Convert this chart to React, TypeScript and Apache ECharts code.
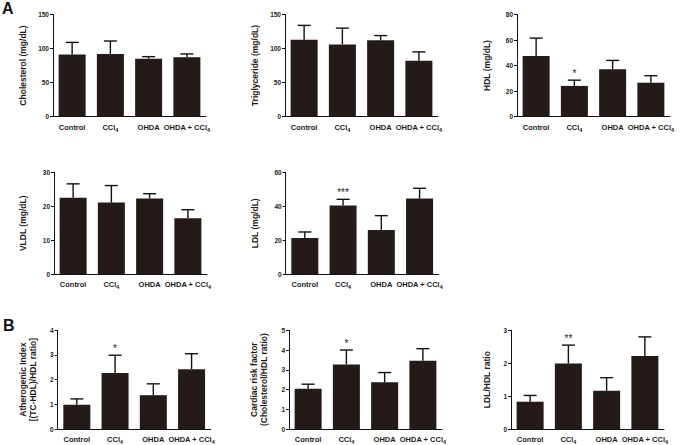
import React, { useEffect, useRef } from "react";
import * as echarts from "echarts";

const categories = ["Control", "CCl4", "OHDA", "OHDA + CCl4"];

const cholMean = [91, 92, 85, 87];
const cholErr = [18, 19, 3, 5];
const trigMean = [113, 106, 112, 82];
const trigErr = [21, 24, 7, 13];
const hdlMean = [47.5, 24, 37, 26.5];
const hdlErr = [14, 4.5, 7, 5.5];
const vldlMean = [22.5, 21.1, 22.3, 16.5];
const vldlErr = [4.1, 5, 1.4, 2.5];
const ldlMean = [21.4, 40.5, 26, 44.6];
const ldlErr = [3.5, 3.6, 8.5, 6];
const athMean = [0.98, 2.27, 1.37, 2.42];
const athErr = [0.24, 0.72, 0.46, 0.63];
const cardMean = [2.04, 3.27, 2.37, 3.46];
const cardErr = [0.23, 0.73, 0.49, 0.61];
const ratioMean = [0.83, 1.99, 1.16, 2.22];
const ratioErr = [0.19, 0.56, 0.4, 0.58];

const noStars = ["", "", "", ""];
const hdlStars = ["", "*", "", ""];
const ldlStars = ["", "***", "", ""];
const athStars = ["", "*", "", ""];
const cardStars = ["", "*", "", ""];
const ratioStars = ["", "**", "", ""];

const yTicks = {
  chol: [0, 150, 50],
  trig: [0, 150, 50],
  hdl: [0, 80, 20],
  vldl: [0, 30, 10],
  ldl: [0, 60, 20],
  ath: [0, 4, 1],
  card: [0, 5, 1],
  ratio: [0, 3, 1],
};

const FONT = "'Liberation Sans', Arial, sans-serif";
const TXT = "#1e1a1a";
const BAR = "#241a18";

const panels = [
  { name: "Cholesterol (mg/dL)", mean: cholMean, err: cholErr, stars: noStars, ticks: yTicks.chol, left: 53, top: 14.5, gap: 25 },
  { name: "Triglyceride (mg/dL)", mean: trigMean, err: trigErr, stars: noStars, ticks: yTicks.trig, left: 285, top: 14.5, gap: 25 },
  { name: "HDL (mg/dL)", mean: hdlMean, err: hdlErr, stars: hdlStars, ticks: yTicks.hdl, left: 517, top: 14.5, gap: 25 },
  { name: "VLDL (mg/dL)", mean: vldlMean, err: vldlErr, stars: noStars, ticks: yTicks.vldl, left: 54, top: 172.3, gap: 26 },
  { name: "LDL (mg/dL)", mean: ldlMean, err: ldlErr, stars: ldlStars, ticks: yTicks.ldl, left: 285.7, top: 172.3, gap: 25.5 },
  { name: "Atherogenic Index\n[(TC-HDL)/HDL ratio]", mean: athMean, err: athErr, stars: athStars, ticks: yTicks.ath, left: 57.7, top: 330.3, gap: 19 },
  { name: "Cardiac risk factor\n(Cholesterol/HDL ratio)", mean: cardMean, err: cardErr, stars: cardStars, ticks: yTicks.card, left: 289, top: 330.3, gap: 19.5 },
  { name: "LDL/HDL ratio", mean: ratioMean, err: ratioErr, stars: ratioStars, ticks: yTicks.ratio, left: 511, top: 330.3, gap: 19 },
];

export default function App() {
  const ref = useRef<HTMLDivElement>(null);
  useEffect(() => {
    document.body.style.margin = "0";
    if (!ref.current) return;
    const chart = echarts.init(ref.current, null, { renderer: "svg" });
    const grid: any[] = [];
    const xAxis: any[] = [];
    const yAxis: any[] = [];
    const series: any[] = [];
    panels.forEach((p, k) => {
      grid.push({ left: p.left, top: p.top, width: 153, height: 102 });
      xAxis.push({
        type: "category",
        gridIndex: k,
        data: categories,
        boundaryGap: true,
        axisLine: { lineStyle: { color: "#111", width: 1 } },
        axisTick: { alignWithLabel: true, length: 3, lineStyle: { color: "#111" } },
        axisLabel: {
          margin: 5,
          fontSize: 7.5,
          fontWeight: "bold",
          fontFamily: FONT,
          color: TXT,
          lineHeight: 11,
          interval: 0,
          formatter: (v: string) => v.replace("CCl4", "CCl{s|4}"),
          rich: {
            s: { fontSize: 5.5, fontWeight: "bold", fontFamily: FONT, color: TXT, lineHeight: 8, verticalAlign: "bottom" },
          },
        },
      });
      yAxis.push({
        type: "value",
        gridIndex: k,
        min: p.ticks[0],
        max: p.ticks[1],
        interval: p.ticks[2],
        name: p.name,
        nameLocation: "middle",
        nameRotate: 90,
        nameGap: p.gap,
        nameTextStyle: { fontSize: 8.5, fontWeight: "bold", fontFamily: FONT, color: TXT, lineHeight: 10.5 },
        axisLine: { show: true, lineStyle: { color: "#111", width: 1 } },
        axisTick: { show: true, length: 3, lineStyle: { color: "#111" } },
        splitLine: { show: false },
        axisLabel: { margin: 4, fontSize: 6.5, fontWeight: "bold", fontFamily: FONT, color: TXT },
      });
      series.push({
        type: "bar",
        xAxisIndex: k,
        yAxisIndex: k,
        data: p.mean,
        barWidth: 27,
        itemStyle: { color: BAR },
      });
      const stars = p.stars;
      series.push({
        type: "custom",
        xAxisIndex: k,
        yAxisIndex: k,
        clip: false,
        z: 5,
        data: p.mean.map((m, i) => [i, m, p.err[i]]),
        renderItem: (params: any, api: any) => {
          const i = api.value(0);
          const m = api.value(1);
          const e = api.value(2);
          const p0 = api.coord([i, m]);
          const p1 = api.coord([i, m + e]);
          const st = { stroke: "#111", lineWidth: 1.4 };
          const children: any[] = [
            { type: "line", shape: { x1: p0[0], y1: p0[1], x2: p1[0], y2: p1[1] }, style: st },
            { type: "line", shape: { x1: p1[0] - 6.5, y1: p1[1], x2: p1[0] + 6.5, y2: p1[1] }, style: st },
          ];
          const s = stars[params.dataIndex];
          if (s) {
            children.push({
              type: "text",
              x: p1[0],
              y: p1[1] - 2,
              style: {
                text: s,
                fill: TXT,
                fontSize: 10,
                fontWeight: "normal",
                fontFamily: FONT,
                align: "center",
                verticalAlign: "bottom",
              },
            });
          }
          return { type: "group", children };
        },
      });
    });
    chart.setOption({
      animation: false,
      backgroundColor: "#fff",
      grid,
      xAxis,
      yAxis,
      series,
      graphic: [
        { type: "text", left: 2, top: 0, style: { text: "A", fontSize: 16, fontWeight: "bold", fontFamily: FONT, fill: "#111" } },
        { type: "text", left: 3, top: 317, style: { text: "B", fontSize: 16, fontWeight: "bold", fontFamily: FONT, fill: "#111" } },
      ],
    });
    return () => chart.dispose();
  }, []);
  return <div ref={ref} style={{ width: 680, height: 445 }} />;
}
